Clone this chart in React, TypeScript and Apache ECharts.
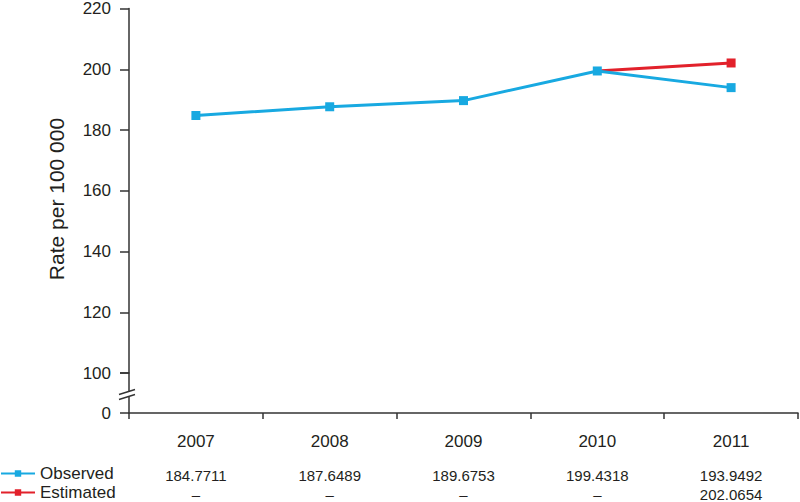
import React, { useEffect, useRef } from "react";
import * as echarts from "echarts";

const years = ["2007", "2008", "2009", "2010", "2011"];
const observed = [184.7711, 187.6489, 189.6753, 199.4318, 193.9492];
const estimated: (number | null)[] = [null, null, null, null, 202.0654];
const yTicks = [100, 120, 140, 160, 180, 200, 220];

const BLUE = "#18A9E1";
const RED = "#E2212B";
const AXIS = "#333";
const TEXT = "#231F20";
const FONT = "'Liberation Sans', Arial, sans-serif";

export default function App() {
  const ref = useRef<HTMLDivElement>(null);
  useEffect(() => {
    if (!ref.current) return;
    const chart = echarts.init(ref.current, undefined, { renderer: "svg" });
    const estLine = estimated.map((v, i) => {
      if (v != null) return v;
      if (i + 1 < estimated.length && estimated[i + 1] != null) return observed[i];
      return null;
    });
    const fmt = (v: number | null) => (v == null ? "–" : v.toFixed(4));
    const left = 129;
    const right = 2;
    const option: any = {
      animation: false,
      textStyle: { fontFamily: FONT },
      grid: [
        { left, right, top: 7, height: 366 },
        { left, right, top: 373, height: 40 },
      ],
      legend: {
        data: ["Observed", "Estimated"],
        orient: "vertical",
        left: 0,
        top: 465,
        height: 80,
        padding: 0,
        itemWidth: 34,
        itemHeight: 8,
        itemGap: 2,
        textStyle: { fontSize: 17, color: TEXT, fontFamily: FONT, lineHeight: 15 },
      },
      xAxis: [
        { type: "category", gridIndex: 0, data: years, show: false, boundaryGap: true },
        {
          type: "category",
          gridIndex: 1,
          data: years,
          position: "bottom",
          boundaryGap: true,
          axisLine: { lineStyle: { color: AXIS, width: 1.5 } },
          axisTick: { show: true, length: 6, lineStyle: { color: AXIS, width: 1.5 } },
          axisLabel: { margin: 20, fontSize: 17, color: TEXT, fontFamily: FONT },
        },
        {
          type: "category",
          gridIndex: 1,
          data: years,
          position: "bottom",
          boundaryGap: true,
          offset: 40,
          axisLine: { show: false },
          axisTick: { show: false },
          axisLabel: {
            margin: 15,
            fontSize: 15,
            color: TEXT,
            fontFamily: FONT,
            formatter: (_: string, i: number) => fmt(observed[i]),
          },
        },
        {
          type: "category",
          gridIndex: 1,
          data: years,
          position: "bottom",
          boundaryGap: true,
          offset: 59,
          axisLine: { show: false },
          axisTick: { show: false },
          axisLabel: {
            margin: 15,
            fontSize: 15,
            color: TEXT,
            fontFamily: FONT,
            formatter: (_: string, i: number) => fmt(estimated[i]),
          },
        },
      ],
      yAxis: [
        {
          type: "value",
          gridIndex: 0,
          min: yTicks[0],
          max: yTicks[yTicks.length - 1],
          interval: 20,
          splitLine: { show: false },
          axisLine: { show: true, lineStyle: { color: AXIS, width: 1.5 } },
          axisTick: { show: true, length: 9, lineStyle: { color: AXIS, width: 1.5 } },
          axisLabel: { margin: 18, fontSize: 17, color: TEXT, fontFamily: FONT },
        },
        {
          type: "value",
          gridIndex: 1,
          min: 0,
          max: 1,
          interval: 1,
          splitLine: { show: false },
          axisLine: { show: true, lineStyle: { color: AXIS, width: 1.5 } },
          axisTick: { show: true, length: 9, lineStyle: { color: AXIS, width: 1.5 } },
          axisLabel: {
            margin: 18,
            fontSize: 17,
            color: TEXT,
            fontFamily: FONT,
            formatter: (v: number) => (v === 0 ? "0" : ""),
          },
        },
      ],
      series: [
        {
          name: "Estimated",
          type: "line",
          xAxisIndex: 0,
          yAxisIndex: 0,
          data: estLine.map((v, i) => (v != null && estimated[i] == null ? { value: v, symbol: "none" } : v)),
          symbol: "rect",
          symbolSize: 9,
          itemStyle: { color: RED },
          lineStyle: { color: RED, width: 3 },
          connectNulls: false,
        },
        {
          name: "Observed",
          type: "line",
          xAxisIndex: 0,
          yAxisIndex: 0,
          data: observed,
          symbol: "rect",
          symbolSize: 9,
          itemStyle: { color: BLUE },
          lineStyle: { color: BLUE, width: 3 },
        },
      ],
      graphic: [
        {
          type: "text",
          x: 56,
          y: 199,
          rotation: Math.PI / 2,
          style: {
            text: "Rate per 100 000",
            fontSize: 21,
            fontFamily: FONT,
            fill: TEXT,
            align: "center",
            verticalAlign: "middle",
          },
        },
        {
          type: "rect",
          shape: { x: 124, y: 392, width: 10, height: 5 },
          style: { fill: "#fff" },
          z: 100,
        },
        {
          type: "line",
          shape: { x1: 119, y1: 394.5, x2: 135, y2: 389.5 },
          style: { stroke: AXIS, lineWidth: 1.5 },
          z: 101,
        },
        {
          type: "line",
          shape: { x1: 119, y1: 399.5, x2: 135, y2: 394.5 },
          style: { stroke: AXIS, lineWidth: 1.5 },
          z: 101,
        },
      ],
    };
    chart.setOption(option);
    return () => chart.dispose();
  }, []);
  return <div ref={ref} style={{ width: 800, height: 502, position: "absolute", left: 0, top: 0 }} />;
}
